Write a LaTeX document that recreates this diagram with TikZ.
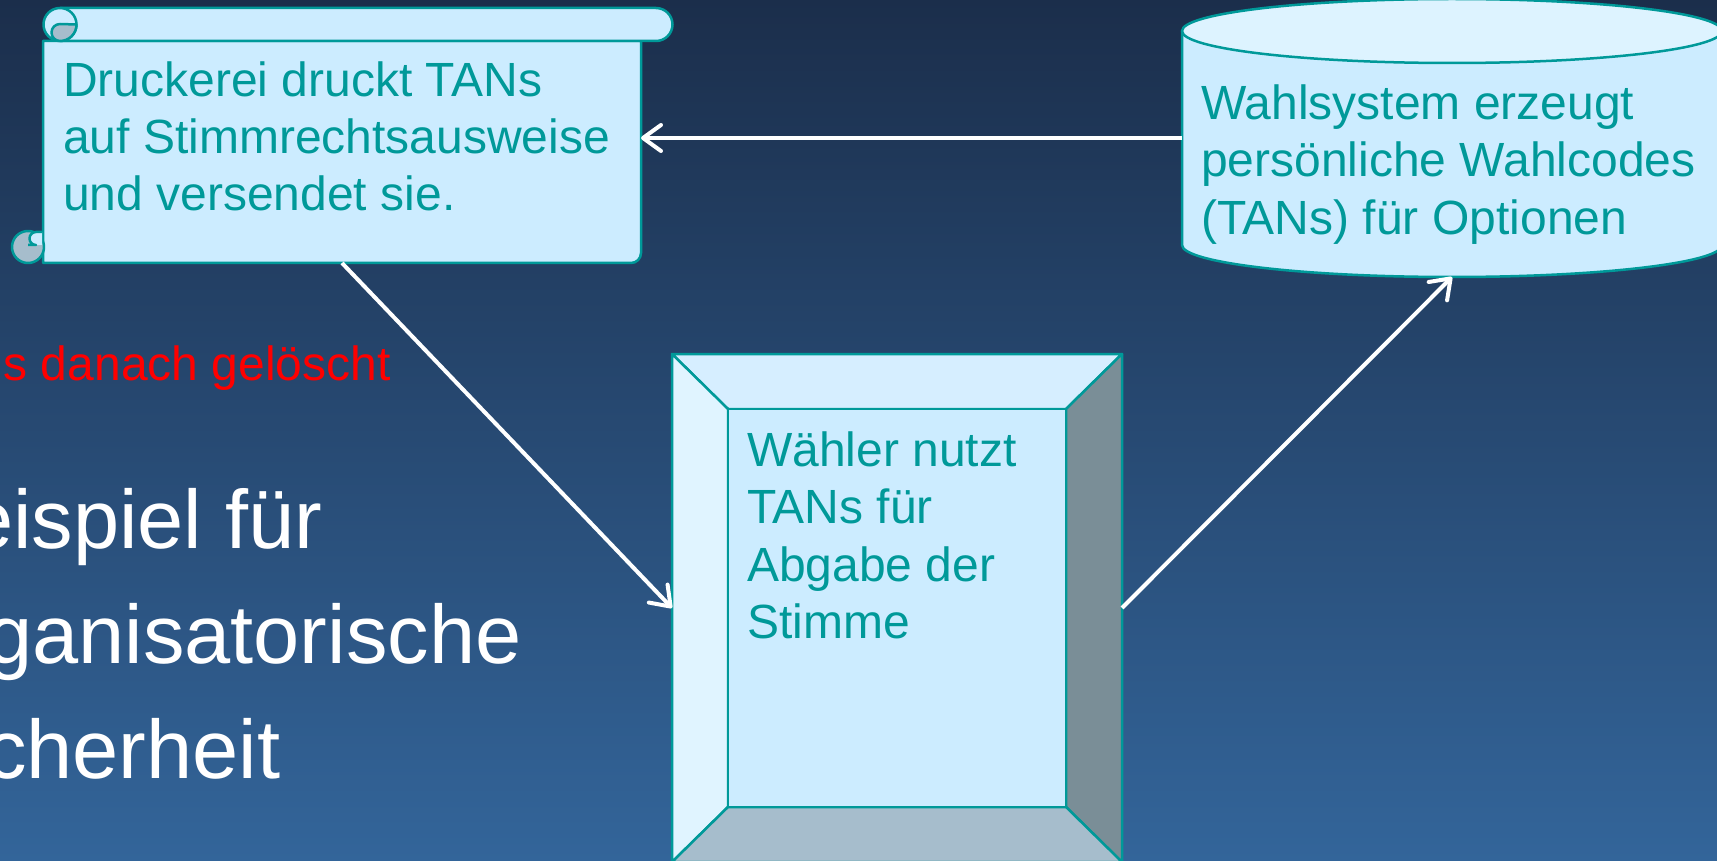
\documentclass[tikz,border=0pt]{standalone}
\usepackage{fontspec}
\setmainfont{Liberation Sans}
\usetikzlibrary{arrows.meta,calc}
\definecolor{teal1}{HTML}{009999}
\definecolor{face}{HTML}{CCECFF}
\definecolor{facelight}{HTML}{DDF3FF}
\definecolor{rollgray}{HTML}{A6BDCC}
\definecolor{bgtop}{HTML}{1B2E4B}
\definecolor{bgbot}{HTML}{33659A}
\definecolor{bevtop}{HTML}{D6EEFF}
\definecolor{bevleft}{HTML}{E0F4FF}
\definecolor{bevright}{HTML}{7A8E97}
\definecolor{bevbot}{HTML}{A6BDCC}
\begin{document}
\begin{tikzpicture}[x=1pt,y=-1pt,
  outl/.style={draw=teal1, line width=2.5pt, line join=round},
  boxtxt/.style={text=teal1, font=\fontsize{48}{57}\selectfont, anchor=base west, inner sep=0pt},
  bigtxt/.style={text=white, font=\fontsize{83}{115}\selectfont, anchor=base west, inner sep=0pt},
  redtxt/.style={text=red, font=\fontsize{48}{57}\selectfont, anchor=base west, inner sep=0pt},
  area/.style={inner sep=0pt, outer sep=0pt, draw=none},
  arr/.style={draw=white, line width=4pt, -{Straight Barb[length=18pt,width=26pt,round]}}
]
\useasboundingbox (0,0) rectangle (1717,861);
\clip (0,0) rectangle (1717,861);
\shade[top color=bgtop, bottom color=bgbot] (0,0) rectangle (1717,861);

% area nodes
\node[area, minimum width=598pt, minimum height=222pt] (scroll) at (342,152) {};
\node[area, minimum width=540pt, minimum height=278pt] (cyl) at (1452,138) {};
\node[area, minimum width=450pt, minimum height=508pt] (bevel) at (897,608) {};

% ---- scroll ----
\path[outl, fill=face] (43,41) -- (43,263) -- (631,263) arc[start angle=90, end angle=0, radius=10] -- (641,41) -- cycle;
\path[outl, fill=face] (60,8) -- (656,8) arc[start angle=270, end angle=450, radius=16.5] -- (60,41) -- cycle;
\path[outl, fill=face] (60,24.5) circle[radius=16.5];
\path[outl, fill=rollgray] (60,24) arc[start angle=270, end angle=90, radius=8.5] arc[start angle=90, end angle=0, radius=16.5] -- cycle;
\path[outl, fill=rollgray] (28,247) circle[radius=16];
\path[fill=face] (42,232) -- (36,232) arc[start angle=270, end angle=90, radius=6.5] -- (42,245) -- cycle;
\path[outl] (42,232) -- (36,232) arc[start angle=270, end angle=90, radius=6.5] -- (28,245);

% ---- cylinder ----
\path[outl, fill=face] (1182,31) -- (1182,245) arc[start angle=180, end angle=0, x radius=270, y radius=32] -- (1722,31) -- cycle;
\path[outl, fill=facelight] (1452,31) ellipse[x radius=270, y radius=32];

% ---- bevel ----
\path[outl, fill=bevtop] (672,354) -- (1122,354) -- (1066,409) -- (728,409) -- cycle;
\path[outl, fill=bevleft] (672,354) -- (728,409) -- (728,807) -- (672,862) -- cycle;
\path[outl, fill=bevright] (1122,354) -- (1122,862) -- (1066,807) -- (1066,409) -- cycle;
\path[outl, fill=bevbot] (672,862) -- (728,807) -- (1066,807) -- (1122,862) -- cycle;
\path[outl, fill=face] (728,409) rectangle (1066,807);

% ---- texts ----
\node[boxtxt] (s1) at (63,97) {Druckerei druckt TANs};
\node[boxtxt] (s2) at (63,154) {auf Stimmrechtsausweise};
\node[boxtxt] (s3) at (63,211) {und versendet sie.};

\node[boxtxt] (c1) at (1201,120) {Wahlsystem erzeugt};
\node[boxtxt] (c2) at (1201,177) {persönliche Wahlcodes};
\node[boxtxt] (c3) at (1201,235) {(TANs) für Optionen};

\node[boxtxt] (b1) at (747,466) {Wähler nutzt};
\node[boxtxt] (b2) at (747,523) {TANs für};
\node[boxtxt] (b3) at (747,581) {Abgabe der};
\node[boxtxt] (b4) at (747,638) {Stimme};

\node[redtxt] (red) at (3.5,380) {s danach gelöscht};

\node[bigtxt] (w1) at (-33,548) {eispiel für};
\node[bigtxt] (w2) at (-14,663) {ganisatorische};
\node[bigtxt] (w3) at (-15,778) {cherheit};

% ---- connectors ----
\draw[arr] (cyl.west) -- (scroll.east |- cyl.west);
\draw[arr] (scroll.south) -- (bevel.west);
\draw[arr] (bevel.east) -- (cyl.south);
\end{tikzpicture}
\end{document}
